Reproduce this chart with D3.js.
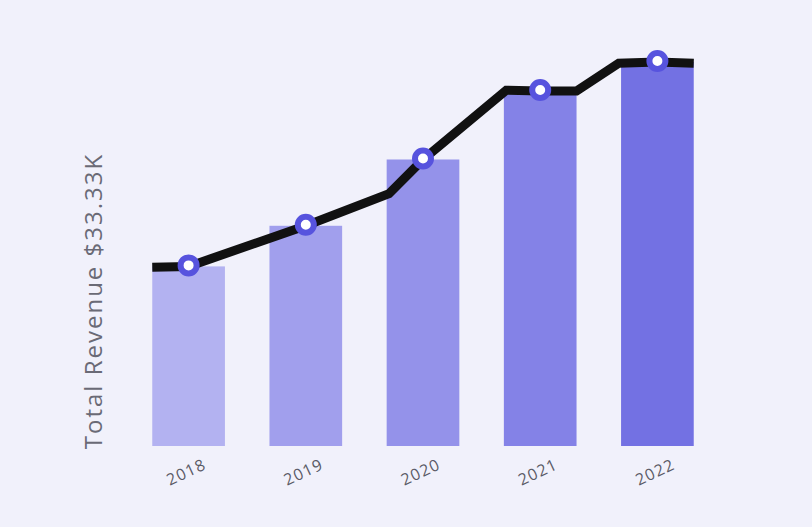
<!DOCTYPE html>
<html><head><meta charset="utf-8">
<script src="https://cdn.jsdelivr.net/npm/d3@7"></script>
<style>
html,body{margin:0;padding:0;background:#f1f1fb;}
svg{display:block;}
</style></head>
<body>
<svg id="chart" width="812" height="527"></svg>
<script>
const years = ["2018","2019","2020","2021","2022"];
const revenue = [4200, 5150, 6700, 8300, 8980];
const barColors = ["#b3b2f1","#a19fed","#9492ea","#8482e7","#7371e3"];
// line vertices: position in year-index units (0 = 2018 centre) and value
const linePos = [-0.31, 0, 1, 1.71, 2, 2.71, 3, 3.31, 3.67, 4, 4.31];
const lineVal = [4180, 4200, 5150, 5900, 6700, 8320, 8300, 8300, 8950, 8980, 8950];
const yLabel = "Total Revenue $33.33K";

const svg = d3.select("#chart");
const margin = {left: 130, right: 96, top: 62, bottom: 81};
const W = 812, H = 527;

const x = d3.scaleBand().domain(years).range([margin.left, W - margin.right]).paddingInner(0.38).paddingOuter(0.19);
const y = d3.scaleLinear().domain([0, d3.max(revenue)]).range([H - margin.bottom, margin.top]);
const xi = d3.scaleLinear().domain([0, years.length - 1])
  .range([x(years[0]) + x.bandwidth()/2, x(years[years.length-1]) + x.bandwidth()/2]);

svg.append("g").selectAll("rect").data(years).join("rect")
  .attr("x", d => x(d))
  .attr("width", x.bandwidth())
  .attr("y", (d,i) => y(revenue[i]))
  .attr("height", (d,i) => y(0) - y(revenue[i]))
  .attr("fill", (d,i) => barColors[i]);

const line = d3.line().x(d => xi(d[0])).y(d => y(d[1]));
svg.append("path")
  .datum(linePos.map((p,i) => [p, lineVal[i]]))
  .attr("d", line)
  .attr("fill", "none")
  .attr("stroke", "#111111")
  .attr("stroke-width", 9)
  .attr("stroke-linejoin", "miter");

svg.append("g").selectAll("circle").data(years).join("circle")
  .attr("cx", d => x(d) + x.bandwidth()/2)
  .attr("cy", (d,i) => y(revenue[i]) - 1)
  .attr("r", 8)
  .attr("fill", "#ffffff")
  .attr("stroke", "#5753de")
  .attr("stroke-width", 6);

const xAxis = svg.append("g").attr("transform", `translate(0,${H - margin.bottom})`)
  .call(d3.axisBottom(x).tickSize(0).tickPadding(0));
xAxis.select(".domain").remove();
xAxis.selectAll("text")
  .attr("font-family", "'Open Sans', sans-serif")
  .attr("font-weight", 400)
  .attr("font-size", 16)
  .attr("letter-spacing", 1.2)
  .attr("fill", "#5a5a66")
  .attr("text-anchor", "middle")
  .attr("dy", 0)
  .attr("y", 0)
  .attr("transform", "translate(0,31) rotate(-25)");

svg.append("text")
  .attr("transform", `translate(102,${(152+450)/2}) rotate(-90)`)
  .attr("text-anchor", "middle")
  .attr("font-family", "'Open Sans', sans-serif")
  .attr("font-weight", 400)
  .attr("font-size", 24)
  .attr("letter-spacing", 2)
  .attr("fill", "#6a6a76")
  .text(yLabel);
</script>
</body></html>
